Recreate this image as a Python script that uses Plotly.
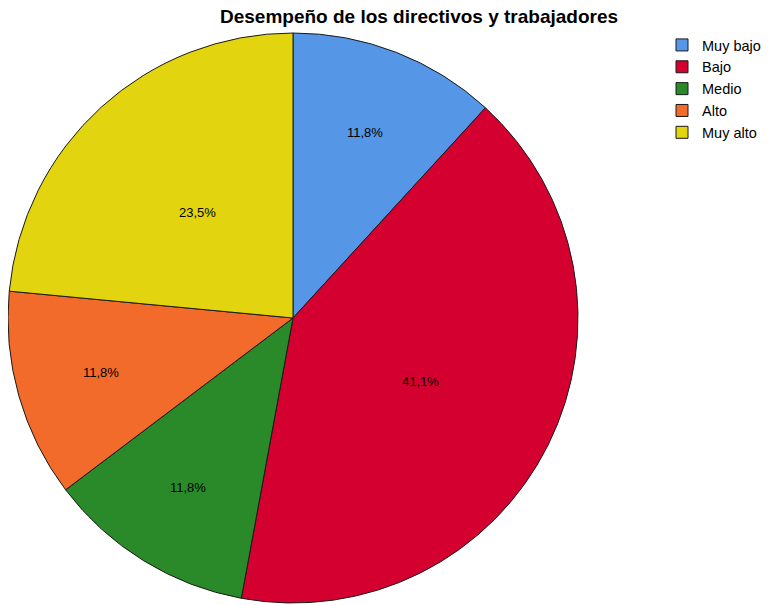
import math
import plotly.graph_objects as go

categorias = ["Muy bajo", "Bajo", "Medio", "Alto", "Muy alto"]
porcentajes = [11.8, 41.1, 11.8, 11.8, 23.5]
colores = ["#5596E6", "#D40030", "#2A8A2A", "#F26B2A", "#E2D510"]

W, H = 772, 605
# la página tiene un margen de 8 px, así que todo va corrido 8 px
CX, CY, R = 285, 310, 285

fig = go.Figure(go.Pie(
    labels=categorias,
    values=porcentajes,
    sort=False,
    direction="clockwise",
    rotation=0,
    marker=dict(colors=colores, line=dict(color="#1a1a1a", width=1)),
    textinfo="none",
    domain=dict(x=[(CX - R) / W, (CX + R) / W], y=[(H - CY - R) / H, (H - CY + R) / H]),
    hoverinfo="label+percent",
))

# etiquetas de porcentaje dentro de cada sector (estilo SPSS)
total = sum(porcentajes)
acum = 0
for v in porcentajes:
    ang = 2 * math.pi * (acum + v / 2) / total
    acum += v
    f = 0.7 if v / total < 0.2 else 0.5
    fig.add_annotation(
        x=(CX + f * R * math.sin(ang)) / W,
        y=(H - CY + f * R * math.cos(ang)) / H,
        xref="paper", yref="paper",
        xanchor="center", yanchor="middle",
        text=f"{v:.1f}%".replace(".", ","),
        showarrow=False,
        font=dict(family="Arial, Liberation Sans", size=13, color="black"),
    )

fig.update_layout(
    width=W, height=H,
    margin=dict(l=0, r=0, t=0, b=0, autoexpand=False),
    paper_bgcolor="white",
    title=dict(
        text="<b>Desempeño de los directivos y trabajadores</b>",
        x=411 / W, xanchor="center", y=1 - 2 / H, yanchor="top",
        font=dict(family="Arial, Liberation Sans", size=19, color="black"),
    ),
    legend=dict(
        x=654 / W, xanchor="left", y=1 - 21 / H, yanchor="top",
        font=dict(family="Arial, Liberation Sans", size=14.5, color="black"),
        itemwidth=30, tracegroupgap=0,
        bgcolor="rgba(0,0,0,0)",
    ),
)

fig.write_html("out.html")
